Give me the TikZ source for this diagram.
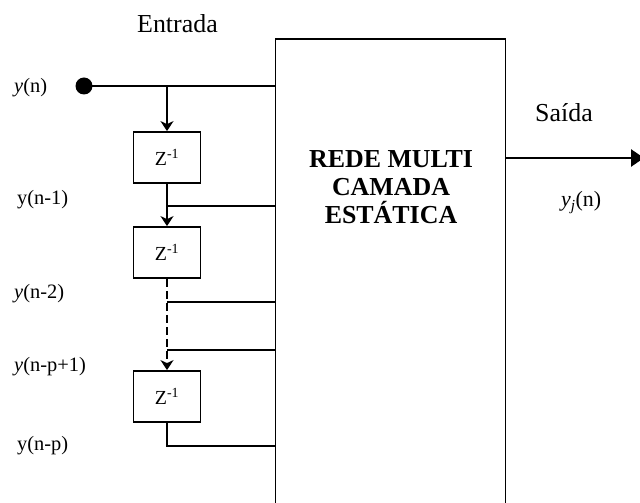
\documentclass[tikz,border=0pt]{standalone}
\usepackage{fontspec}
\setmainfont{Liberation Serif}
\usetikzlibrary{arrows.meta}
\begin{document}
\begin{tikzpicture}[x=1bp,y=-1bp,
  line/.style={line width=1.8bp},
  arr/.style={line width=2.6bp,-{Stealth[length=10bp,width=13bp,inset=3bp]}},
  darr/.style={line width=2.6bp,dash pattern=on 8bp off 4bp,-{Stealth[length=10bp,width=13bp,inset=3bp]}},
  outarr/.style={line width=2.6bp,-{Triangle[length=13bp,width=17bp]}},
  zbox/.style={draw,line width=1.8bp,minimum width=67bp,minimum height=51bp,inner sep=0pt,font=\fontsize{20}{22}\selectfont},
  lab/.style={anchor=base west,inner sep=0pt,font=\fontsize{20.5}{22}\selectfont},
  biglab/.style={anchor=base west,inner sep=0pt,font=\fontsize{26}{28}\selectfont}]
\useasboundingbox (0,0) rectangle (640,503);
% big network box (bottom edge lies below the picture)
\node[draw,line width=1.8bp,minimum width=230bp,minimum height=490bp,inner sep=0pt] (net) at (390.5,284) {};
\node[align=center,font=\fontsize{26}{28}\selectfont\bfseries,inner sep=0pt] (netlab) at (391,187) {REDE MULTI\\CAMADA\\ESTÁTICA};
% delay boxes
\node[zbox] (z1) at (167,157.5) {Z\textsuperscript{-1}};
\node[zbox] (z2) at (167,252.5) {Z\textsuperscript{-1}};
\node[zbox] (z3) at (167,396.5) {Z\textsuperscript{-1}};
% input dot
\node[circle,fill,inner sep=0pt,minimum size=17bp] (dot) at (84,86) {};
% junction coordinates
\coordinate (j0) at (167,86);
\coordinate (j1) at (167,206);
\coordinate (j2) at (167,302);
\coordinate (j3) at (167,350);
\coordinate (j4) at (167,446);
\coordinate (out) at (644,158);
% labels
\node[biglab] (entrada) at (137,33) {Entrada};
\node[lab] (l0) at (14,93) {\textit{y}(n)};
\node[lab] (l1) at (17,205) {y(n-1)};
\node[lab] (l2) at (14,298) {\textit{y}(n-2)};
\node[lab] (l3) at (14,371) {\textit{y}(n-p+1)};
\node[lab] (l4) at (17,450) {y(n-p)};
\node[biglab] (saida) at (535,122) {Saída};
\node[lab,font=\fontsize{22}{24}\selectfont] (yj) at (561,207) {\textit{y\textsubscript{j}}(n)};
% connectors
\draw[line] (dot.center) -- (dot.center -| net.west);
\draw[arr] (j0) -- (z1.north);
\draw[arr] (z1.south) -- (z2.north);
\draw[line] (j1) -- (j1 -| net.west);
\draw[darr] (z2.south) -- (z3.north);
\draw[line] (j2) -- (j2 -| net.west);
\draw[line] (j3) -- (j3 -| net.west);
\draw[line] (z3.south) -- (j4) -- (j4 -| net.west);
\draw[outarr] (net.east |- out) -- (out);
\end{tikzpicture}
\end{document}
